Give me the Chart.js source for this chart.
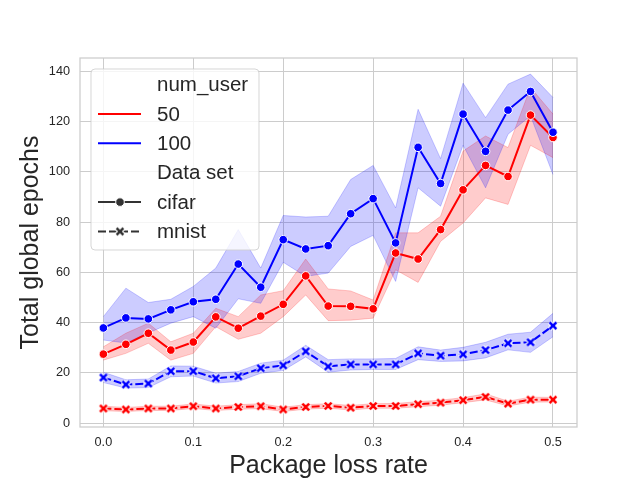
<!DOCTYPE html>
<html>
<head>
<meta charset="utf-8">
<script src="https://cdn.jsdelivr.net/npm/chart.js@4"></script>
<style>
  html, body { margin: 0; padding: 0; background: #ffffff; }
  canvas { display: block; }
</style>
</head>
<body>
<canvas id="chart" width="640" height="480"></canvas>
<script>
const lossRates = [0, 0.025, 0.05, 0.075, 0.1, 0.125, 0.15, 0.175, 0.2, 0.225, 0.25, 0.275, 0.3, 0.325, 0.35, 0.375, 0.4, 0.425, 0.45, 0.475, 0.5];

const cifar100 = [37.9, 41.9, 41.5, 45.1, 48.3, 49.3, 63.3, 54.1, 73.0, 69.3, 70.6, 83.3, 89.3, 71.7, 109.7, 95.3, 122.9, 108.1, 124.5, 131.9, 115.7];
const cifar100Lo = [33.1, 31.9, 35.9, 39.8, 42.4, 37.8, 49.5, 47.7, 64.0, 58.4, 59.7, 70.3, 74.7, 56.4, 93.6, 86.3, 110.5, 93.6, 114.9, 122.2, 98.9];
const cifar100Hi = [42.4, 53.7, 48.0, 49.3, 54.4, 61.7, 77.0, 61.7, 82.6, 82.0, 82.3, 96.9, 102.5, 85.6, 124.8, 105.2, 135.2, 121.5, 134.8, 138.8, 129.5];

const cifar50 = [27.5, 31.4, 35.8, 29.1, 32.3, 42.3, 37.8, 42.6, 47.3, 58.6, 46.6, 46.5, 45.5, 67.7, 65.3, 77.0, 92.8, 102.5, 98.1, 122.5, 113.6];
const cifar50Lo = [25.1, 27.8, 31.8, 25.1, 27.8, 38.4, 33.4, 35.8, 42.4, 51.0, 40.8, 41.0, 41.8, 61.0, 56.0, 72.3, 79.6, 89.6, 87.0, 110.5, 105.6];
const cifar50Hi = [30.4, 35.8, 39.8, 32.4, 35.8, 45.7, 42.4, 51.0, 52.7, 65.3, 53.4, 52.6, 49.0, 75.7, 75.7, 82.3, 108.2, 114.2, 109.6, 133.5, 122.9];

const mnist100 = [18.2, 15.4, 15.8, 20.7, 20.7, 17.9, 18.7, 21.9, 23.0, 28.6, 22.6, 23.4, 23.4, 23.4, 27.8, 26.9, 27.4, 29.1, 31.8, 32.2, 38.8];
const mnist100Lo = [16.2, 14.0, 14.2, 18.5, 18.8, 16.0, 16.6, 19.9, 21.0, 26.4, 20.3, 21.2, 21.4, 21.4, 25.3, 24.6, 24.8, 26.0, 29.2, 28.2, 34.4];
const mnist100Hi = [20.3, 17.3, 17.6, 22.8, 22.7, 19.9, 20.6, 23.9, 25.1, 31.0, 25.3, 25.6, 25.6, 25.8, 30.4, 29.1, 30.2, 32.2, 35.4, 36.2, 43.7];

const mnist50 = [5.9, 5.5, 5.9, 5.9, 6.8, 5.9, 6.5, 6.8, 5.5, 6.5, 6.9, 6.2, 6.9, 6.9, 7.6, 8.2, 9.2, 10.5, 7.8, 9.4, 9.4];
const mnist50Lo = [5.0, 4.7, 5.1, 5.1, 5.9, 5.1, 5.6, 5.8, 4.7, 5.6, 6.0, 5.3, 6.0, 6.0, 6.6, 7.2, 8.2, 9.3, 6.9, 8.4, 8.5];
const mnist50Hi = [6.8, 6.3, 6.8, 6.8, 7.7, 6.8, 7.4, 7.8, 6.4, 7.4, 7.8, 7.1, 7.8, 7.9, 8.6, 9.2, 10.2, 11.7, 8.8, 10.4, 10.3];

const xTicks = [0, 0.1, 0.2, 0.3, 0.4, 0.5];
const yTicks = [0, 20, 40, 60, 80, 100, 120, 140];

const userCounts = ["50", "100"];
const dataSets = ["cifar", "mnist"];

const FONT = "'Liberation Sans', Arial, sans-serif";
const TEXT = "#262626";
const RED = "#ff0000";
const BLUE = "#0000ff";
const DARK = "#333333";

function points(values) {
  return values.map((y, i) => ({ x: lossRates[i], y }));
}

function xMarker(color) {
  const c = document.createElement("canvas");
  c.width = 14;
  c.height = 14;
  const g = c.getContext("2d");
  const d = 3.4;
  const stroke = (width, style) => {
    g.strokeStyle = style;
    g.lineWidth = width;
    g.beginPath();
    g.moveTo(7 - d, 7 - d);
    g.lineTo(7 + d, 7 + d);
    g.moveTo(7 + d, 7 - d);
    g.lineTo(7 - d, 7 + d);
    g.stroke();
  };
  stroke(4.6, "#ffffff");
  stroke(2.6, color);
  return c;
}

function lineSet(label, values, color, dashed) {
  return {
    label,
    data: points(values),
    borderColor: color,
    backgroundColor: color,
    borderWidth: 2,
    borderDash: dashed ? [8, 3] : [],
    pointStyle: dashed ? xMarker(color) : "circle",
    pointRadius: 4.3,
    pointBorderColor: "#ffffff",
    pointBorderWidth: 1,
    pointBackgroundColor: color,
    fill: false,
    tension: 0,
  };
}

function bandSets(lo, hi, rgb) {
  return [
    {
      label: "hi",
      data: points(hi),
      borderColor: `rgba(${rgb},0.2)`,
      backgroundColor: `rgba(${rgb},0.2)`,
      borderWidth: 1,
      pointRadius: 0,
      fill: "+1",
      tension: 0,
    },
    {
      label: "lo",
      data: points(lo),
      borderColor: `rgba(${rgb},0.2)`,
      borderWidth: 1,
      pointRadius: 0,
      fill: false,
      tension: 0,
    },
  ];
}

const framePlugin = {
  id: "frame",
  beforeDatasetsDraw(chart) {
    const { ctx, chartArea: a } = chart;
    ctx.save();
    ctx.strokeStyle = "#cccccc";
    ctx.lineWidth = 1.25;
    ctx.strokeRect(a.left, a.top, a.right - a.left, a.bottom - a.top);
    ctx.restore();
  },
};

const legendPlugin = {
  id: "groupLegend",
  afterDraw(chart) {
    const ctx = chart.ctx;
    ctx.save();
    ctx.beginPath();
    ctx.roundRect(91, 69, 168, 181, 4);
    ctx.fillStyle = "rgba(255,255,255,0.8)";
    ctx.fill();
    ctx.strokeStyle = "rgba(204,204,204,0.8)";
    ctx.lineWidth = 1;
    ctx.stroke();

    ctx.font = `20.5px ${FONT}`;
    ctx.fillStyle = TEXT;
    ctx.textBaseline = "middle";
    const rows = [
      { text: "num_user" },
      { text: userCounts[0], color: RED },
      { text: userCounts[1], color: BLUE },
      { text: "Data set" },
      { text: dataSets[0], color: DARK, marker: "circle" },
      { text: dataSets[1], color: DARK, marker: "x", dashed: true },
    ];
    rows.forEach((row, i) => {
      const y = 84.5 + i * 29.4;
      if (row.color) {
        ctx.strokeStyle = row.color;
        ctx.lineWidth = 2;
        ctx.setLineDash(row.dashed ? [8, 3] : []);
        ctx.beginPath();
        ctx.moveTo(98, y);
        ctx.lineTo(141, y);
        ctx.stroke();
        ctx.setLineDash([]);
      }
      if (row.marker === "circle") {
        ctx.beginPath();
        ctx.arc(120, y, 4.3, 0, Math.PI * 2);
        ctx.fillStyle = row.color;
        ctx.fill();
        ctx.strokeStyle = "#ffffff";
        ctx.lineWidth = 1;
        ctx.stroke();
      } else if (row.marker === "x") {
        const img = xMarker(row.color);
        ctx.drawImage(img, 120 - img.width / 2, y - img.height / 2);
      }
      ctx.fillStyle = TEXT;
      ctx.fillText(row.text, 157, y + 1);
    });
    ctx.restore();
  },
};

const datasets = [
  lineSet("100 cifar", cifar100, BLUE, false),
  lineSet("100 mnist", mnist100, BLUE, true),
  lineSet("50 cifar", cifar50, RED, false),
  lineSet("50 mnist", mnist50, RED, true),
  ...bandSets(cifar100Lo, cifar100Hi, "0,0,255"),
  ...bandSets(mnist100Lo, mnist100Hi, "0,0,255"),
  ...bandSets(cifar50Lo, cifar50Hi, "255,0,0"),
  ...bandSets(mnist50Lo, mnist50Hi, "255,0,0"),
];

new Chart(document.getElementById("chart"), {
  type: "line",
  data: { datasets },
  plugins: [framePlugin, legendPlugin],
  options: {
    responsive: false,
    devicePixelRatio: 1,
    animation: false,
    layout: { padding: { left: 0, right: 63, top: 58, bottom: 0 } },
    plugins: {
      legend: { display: false },
      tooltip: { enabled: false },
      filler: { drawTime: "beforeDatasetsDraw" },
    },
    scales: {
      x: {
        type: "linear",
        min: -0.026,
        max: 0.5267,
        afterBuildTicks: (scale) => { scale.ticks = xTicks.map((value) => ({ value })); },
        afterFit: (scale) => { scale.height = 53; },
        grid: { color: "#cccccc", lineWidth: 1, drawTicks: false },
        border: { display: false },
        ticks: {
          color: TEXT,
          font: { family: FONT, size: 12.7, lineHeight: 1 },
          padding: 9.5,
          maxRotation: 0,
          callback: (value) => Number(value).toFixed(1),
        },
        title: {
          display: true,
          text: "Package loss rate",
          color: TEXT,
          font: { family: FONT, size: 25, lineHeight: 1 },
          padding: { top: 0, bottom: 1.5 },
        },
      },
      y: {
        min: -1.47,
        max: 145.2,
        afterBuildTicks: (scale) => { scale.ticks = yTicks.map((value) => ({ value })); },
        afterFit: (scale) => { scale.width = 80; },
        grid: { color: "#cccccc", lineWidth: 1, drawTicks: false },
        border: { display: false },
        ticks: {
          color: TEXT,
          font: { family: FONT, size: 12.7, lineHeight: 1 },
          padding: 10,
        },
        title: {
          display: true,
          text: "Total global epochs",
          color: TEXT,
          font: { family: FONT, size: 25, lineHeight: 1 },
          padding: { top: 18.5, bottom: 0 },
        },
      },
    },
  },
});
</script>
</body>
</html>
